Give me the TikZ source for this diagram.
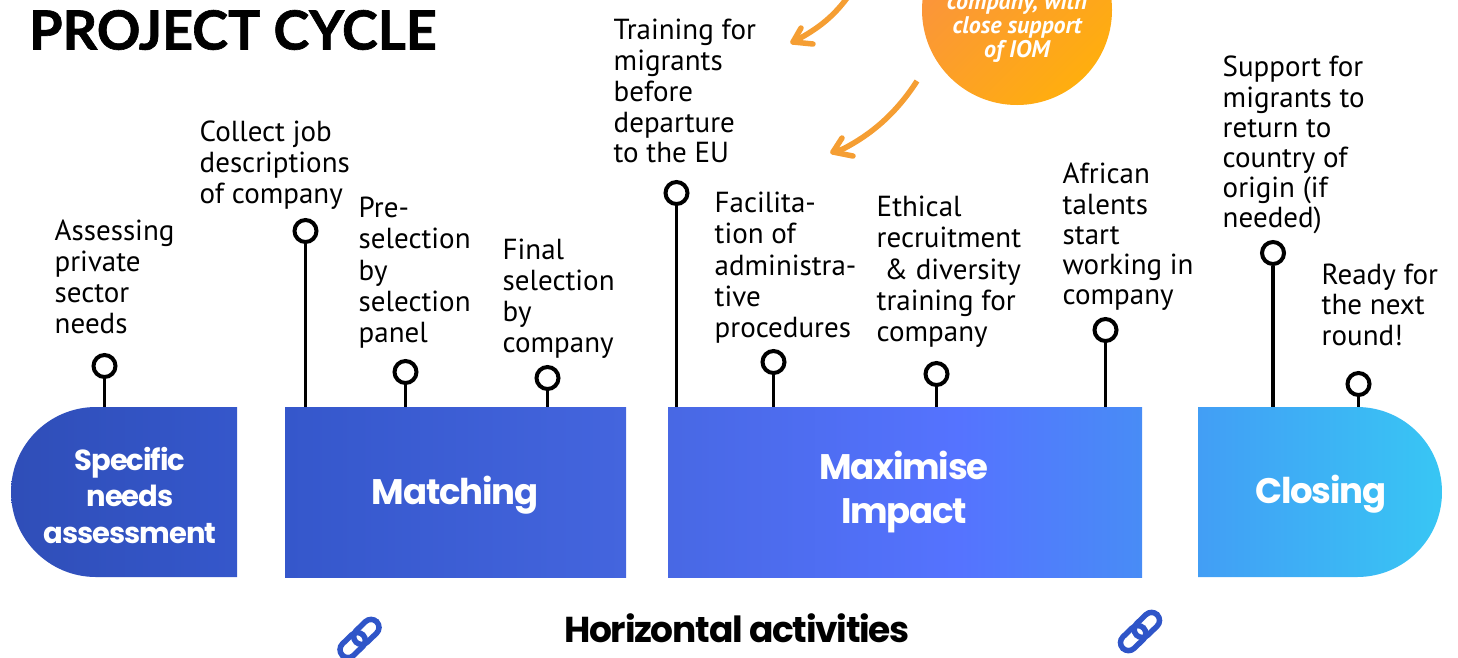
\documentclass[tikz,border=0pt]{standalone}
\usepackage{fontspec}
\setmainfont{PT Sans}
\newfontfamily\headfont[BoldFeatures={FakeBold=1.2}]{Lato}
\newfontfamily\labfont[LetterSpace=-3.5]{Poppins}
\usetikzlibrary{calc}
\definecolor{orangeA}{HTML}{F59E33}
\definecolor{linkblue}{HTML}{2F55C8}
\tikzset{
  x=1pt,y=-1pt,
  step text/.style={anchor=north west,inner sep=0pt,align=left,text=black,font=\fontsize{29}{30.8}\selectfont},
  tight text/.style={step text,font=\fontsize{29}{30.2}\selectfont},
  loose text/.style={step text,font=\fontsize{29}{31.2}\selectfont},
  pin/.style={circle,draw=black,line width=4pt,fill=white,minimum size=22pt,inner sep=0pt},
  stem/.style={draw=black,line width=3.6pt},
  bar label/.style={text=white,align=center,inner sep=0pt,font=\labfont\bfseries\fontsize{35.5}{44}\selectfont},
  small label/.style={text=white,align=center,inner sep=0pt,font=\labfont\bfseries\fontsize{29}{36.5}\selectfont},
  flat bar/.style={rectangle,inner sep=0pt,anchor=north west,minimum height=170pt},
  arrow line/.style={draw=orangeA,line width=5.5pt,line cap=round,line join=round},
  chain/.style={draw=linkblue,line width=5.5pt,rounded corners=8pt},
}
\begin{document}
\begin{tikzpicture}
\useasboundingbox (0,0) rectangle (1458,657);
\clip (0,0) rectangle (1458,657);
% bars
\shade[left color={rgb,255:red,47;green,78;blue,184},right color={rgb,255:red,53;green,87;blue,203}]
  (237,407) -- (96,407) arc[start angle=90,end angle=270,radius=85pt] -- (237,577) -- cycle;
\node[flat bar,minimum width=341pt,left color={rgb,255:red,53;green,87;blue,203},right color={rgb,255:red,68;green,101;blue,222}] (matching) at (285,407) {};
\node[flat bar,minimum width=292pt,left color={rgb,255:red,72;green,104;blue,228},right color={rgb,255:red,85;green,115;blue,255}] (maxA) at (668,407) {};
\node[flat bar,minimum width=183pt,left color={rgb,255:red,85;green,115;blue,255},right color={rgb,255:red,72;green,140;blue,246}] (maxB) at (959,407) {};
\shade[left color={rgb,255:red,66;green,158;blue,245},right color={rgb,255:red,56;green,198;blue,244}]
  (1198,407) -- (1357,407) arc[start angle=90,end angle=-90,radius=85pt] -- (1198,577) -- cycle;
% bar labels
\node[small label] (specific) at (130,495) {Specific\\needs\\assessment};
\node[bar label] (matchlab) at (455,495) {Matching};
\node[bar label] (maxlab) at (904,492) {Maximise\\Impact};
\node[bar label] (closing) at (1321,494) {Closing};
% pins
\foreach \n/\x/\y in {a/104.5/366,b/305.5/231,c/405.5/372,d/547.5/378,e/676.5/193,f/773.5/362,g/936.5/374,h/1105.5/330,i/1273/253,j/1358.5/384}{
  \coordinate (base\n) at (\x,407);
  \node[pin] (pin\n) at (\x,\y) {};
  \draw[stem] (pin\n) -- (base\n);
}
% step texts
\node[step text] (t1) at (54.5,220) {Assessing\\private\\sector\\needs};
\node[step text] (t2) at (199.5,121) {Collect job\\descriptions\\of company};
\node[loose text] (t3) at (358.5,197) {Pre-\\selection\\by\\selection\\panel};
\node[step text] (t4) at (502.5,239) {Final\\selection\\by\\company};
\node[step text] (t5) at (613.5,19) {Training for\\migrants\\before\\departure\\to the EU};
\node[loose text] (t6) at (714.5,192) {Facilita-\\tion of\\administra-\\tive\\procedures};
\node[loose text] (t7) at (876.5,196) {Ethical\\recruitment\\\ \& diversity\\training for\\company};
\node[tight text] (t8) at (1062.5,163) {African\\talents\\start\\working in\\company};
\node[tight text] (t9) at (1222.5,56) {Support for\\migrants to\\return to\\country of\\origin (if\\needed)};
\node[tight text] (t10) at (1321.5,264) {Ready for\\the next\\round!};
% title and footer
\node[anchor=west,inner sep=0pt,font=\headfont\bfseries\fontsize{54}{60}\selectfont] (title) at (29,30) {PROJECT CYCLE};
\node[inner sep=0pt,font=\labfont\bfseries\fontsize{36}{40}\selectfont] (horiz) at (737,628) {Horizontal activities};
% circle
\shade[top color={rgb,255:red,250;green,146;blue,64},bottom color={rgb,255:red,255;green,174;blue,14},shading angle=45]
  (1017,10) circle[radius=95pt];
\node[text=white,align=center,inner sep=0pt,font=\bfseries\itshape\fontsize{24}{24}\selectfont] (iom) at (1017,27.5) {company, with\\close support\\of IOM};
% arrows
\coordinate (u1) at (850,-6);
\coordinate (u2) at (793,42);
\draw[arrow line] (u1) .. controls (835,15) and (820,28) .. (u2);
\draw[arrow line] (801,28) -- (u2) -- (813,44);
\coordinate (l1) at (917,81);
\coordinate (l2) at (833,152);
\draw[arrow line,line cap=butt] (l1) .. controls (895,115) and (870,135) .. (843,149);
\draw[arrow line] (843,149) -- (l2);
\draw[arrow line] (842,138) -- (l2) -- (853,156);
% chains
\foreach \cx/\cy in {359.5/638.5,1140/631.5}{
  \begin{scope}[shift={(\cx,\cy)},rotate=44]
    \draw[chain] (-24,-8) rectangle (5,8);
    \draw[chain] (-5,-8) rectangle (24,8);
  \end{scope}
}
\end{tikzpicture}
\end{document}
